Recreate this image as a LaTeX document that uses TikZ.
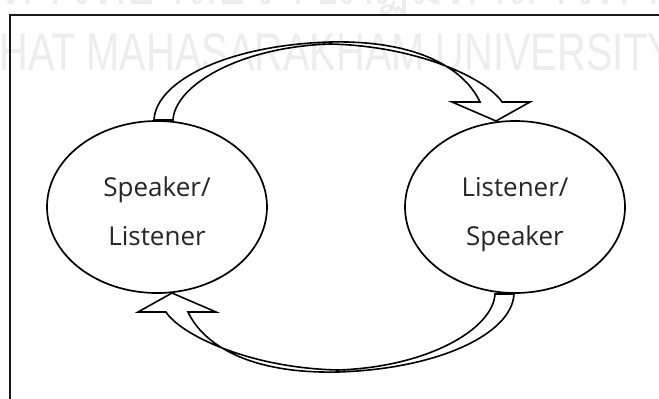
\documentclass[tikz,border=0pt]{standalone}
\usepackage{fontspec}
\setmainfont{Open Sans}
\newfontfamily\wmfont{Liberation Sans}
\newfontfamily\thaifont[Script=Thai]{Loma}
\usetikzlibrary{shapes.geometric}

\tikzset{
  bubble/.style={ellipse, draw=black, line width=1.7pt, minimum width=220pt,
    minimum height=172pt, inner sep=0pt, fill=white},
  role/.style={anchor=base, inner sep=0pt, font=\fontsize{26}{30}\selectfont, text=black!85},
  frameline/.style={line width=1.8pt, draw=black!90},
  arrowbody/.style={draw=black, fill=white, line width=1.6pt, line join=miter},
  watermark/.style={inner sep=0pt, text=black!7},
  turnarrow/.pic={
    \path[arrowbody]
      (154,120) .. controls (156,80) and (230,45) .. (330,42)
      .. controls (420,40) and (465,70) .. (480,102)
      -- (452,102) -- (496,121) -- (530,102) -- (502,102)
      .. controls (488,80) and (420,46) .. (330,44)
      .. controls (240,47) and (175,85) .. (173,120) -- cycle;
  }
}

\begin{document}
\begin{tikzpicture}[x=1pt, y=-1pt]
  \useasboundingbox (0,0) rectangle (659,399);
  \fill[white] (0,0) rectangle (659,399);

  % faint university watermark behind the figure
  \node[watermark, anchor=base, font=\thaifont\fontsize{52}{60}\selectfont]
    (wmth) at (330,4) {มหาวิทยาลัยราชภัฏมหาสารคาม};
  \node[watermark, anchor=base west, font=\wmfont\fontsize{53}{60}\selectfont]
    (wmen) at (-129,70) {\scalebox{0.75}[1]{RAJABHAT MAHASARAKHAM UNIVERSITY}};

  % outer frame (open at right and bottom)
  \coordinate (fbl) at (10,399);
  \coordinate (ftl) at (10,15);
  \coordinate (ftr) at (659,15);
  \draw[frameline] (fbl) -- (ftl) -- (ftr);

  % the two participants
  \node[bubble] (sl) at (157,207) {};
  \node[bubble] (ls) at (515,207) {};

  \node[role] (sl1) at ([yshift=11pt]sl.center) {Speaker/};
  \node[role] (sl2) at ([yshift=-38pt]sl.center) {Listener};
  \node[role] (ls1) at ([yshift=11pt]ls.center) {Listener/};
  \node[role] (ls2) at ([yshift=-38pt]ls.center) {Speaker};

  % turn-taking arrows: top one left to right, bottom one its half-turn copy
  \pic at (0,0) {turnarrow};
  \pic[rotate=180] at (668,414) {turnarrow};
\end{tikzpicture}
\end{document}
